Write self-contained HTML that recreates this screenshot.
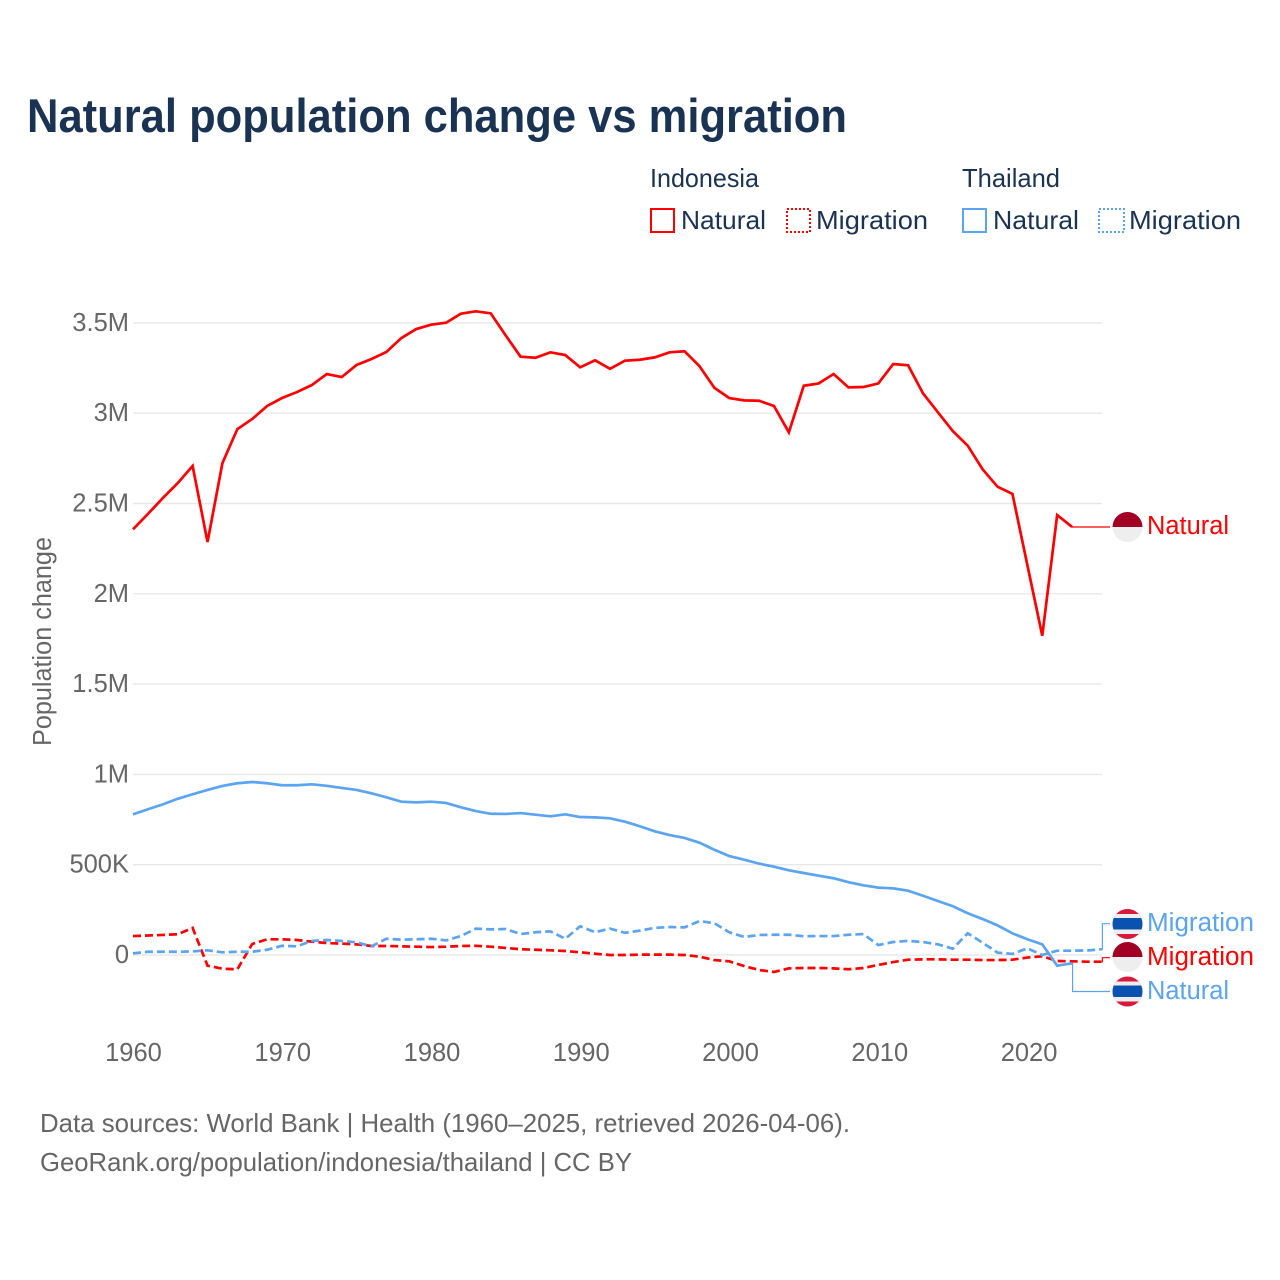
<!DOCTYPE html>
<html lang="en">
<head>
<meta charset="utf-8">
<title>Natural population change vs migration</title>
<style>
html,body{margin:0;padding:0;background:#fff;width:1280px;height:1280px;overflow:hidden}
svg{display:block}
text{font-family:"Liberation Sans",sans-serif}
.tick{font-size:25.5px;fill:#666}
.legend{font-size:26px;fill:#1a3352}
.lab{font-size:25.5px}
.foot{font-size:26px;fill:#666}
</style>
</head>
<body>
<svg id="chart" width="1280" height="1280" viewBox="0 0 1280 1280" xmlns="http://www.w3.org/2000/svg">
  <defs>
    <clipPath id="clip-a"><circle cx="1127.5" cy="527" r="15"/></clipPath>
    <clipPath id="clip-b"><circle cx="1127.5" cy="957" r="15"/></clipPath>
    <clipPath id="clip-c"><circle cx="1127.5" cy="924" r="15"/></clipPath>
    <clipPath id="clip-d"><circle cx="1127.5" cy="991.5" r="15"/></clipPath>
  </defs>
  <rect width="1280" height="1280" fill="#fff"/>
  <text x="27" y="132" font-size="47" font-weight="700" fill="#1a3352" textLength="820" lengthAdjust="spacingAndGlyphs">Natural population change vs migration</text>

  <g>
    <text class="legend" x="650" y="187" textLength="109" lengthAdjust="spacingAndGlyphs">Indonesia</text>
    <text class="legend" x="962" y="187" textLength="98" lengthAdjust="spacingAndGlyphs">Thailand</text>
    <g>
      <rect x="651" y="209" width="23" height="23" fill="none" stroke="#ff0000" stroke-width="2"/>
      <text class="legend" x="681" y="229" textLength="85" lengthAdjust="spacingAndGlyphs">Natural</text>
    </g>
    <g>
      <rect x="787" y="209" width="23" height="23" fill="none" stroke="#ff0000" stroke-width="2" stroke-dasharray="2 2"/>
      <text class="legend" x="816" y="229" textLength="112" lengthAdjust="spacingAndGlyphs">Migration</text>
    </g>
    <g>
      <rect x="963" y="209" width="23" height="23" fill="none" stroke="#5ba4f0" stroke-width="2"/>
      <text class="legend" x="993" y="229" textLength="86" lengthAdjust="spacingAndGlyphs">Natural</text>
    </g>
    <g>
      <rect x="1099" y="209" width="25" height="23" fill="none" stroke="#5ba4f0" stroke-width="2" stroke-dasharray="2 2"/>
      <text class="legend" x="1129" y="229" textLength="112" lengthAdjust="spacingAndGlyphs">Migration</text>
    </g>
  </g>

  <g id="grid"></g>
  <g id="yticks"></g>
  <g id="xticks"></g>
  <text transform="translate(51,746) rotate(-90)" font-size="25.5" fill="#666" textLength="209" lengthAdjust="spacingAndGlyphs">Population change</text>
  <g id="connectors"></g>
  <g id="series"></g>

  <g clip-path="url(#clip-a)">
    <rect x="1112" y="512" width="31" height="15" fill="#a10024"/>
    <rect x="1112" y="527" width="31" height="15" fill="#eeeeee"/>
  </g>
  <g clip-path="url(#clip-b)">
    <rect x="1112" y="942" width="31" height="15" fill="#a10024"/>
    <rect x="1112" y="957" width="31" height="15" fill="#eeeeee"/>
  </g>
  <g clip-path="url(#clip-c)">
    <rect x="1112" y="909" width="31" height="30" fill="#d8193c"/>
    <rect x="1112" y="914" width="31" height="20" fill="#eeeeee"/>
    <rect x="1112" y="918" width="31" height="11.5" fill="#0a52b0"/>
  </g>
  <g clip-path="url(#clip-d)">
    <rect x="1112" y="976" width="31" height="31" fill="#d8193c"/>
    <rect x="1112" y="981.5" width="31" height="20" fill="#eeeeee"/>
    <rect x="1112" y="985.5" width="31" height="11.5" fill="#0a52b0"/>
  </g>

  <text class="lab" x="1147" y="534" fill="#ff0000" textLength="82" lengthAdjust="spacingAndGlyphs">Natural</text>
  <text class="lab" x="1147" y="931" fill="#5ba4f0" textLength="107" lengthAdjust="spacingAndGlyphs">Migration</text>
  <text class="lab" x="1147" y="965" fill="#ff0000" textLength="107" lengthAdjust="spacingAndGlyphs">Migration</text>
  <text class="lab" x="1147" y="999" fill="#5ba4f0" textLength="82" lengthAdjust="spacingAndGlyphs">Natural</text>

  <text class="foot" x="40" y="1132" textLength="810" lengthAdjust="spacingAndGlyphs">Data sources: World Bank | Health (1960–2025, retrieved 2026-04-06).</text>
  <text class="foot" x="40" y="1171" textLength="592" lengthAdjust="spacingAndGlyphs">GeoRank.org/population/indonesia/thailand | CC BY</text>
</svg>
<script>
var startYear = 1960;
var yTickValues = [0, 500, 1000, 1500, 2000, 2500, 3000, 3500];
var yTickLabels = ["0", "500K", "1M", "1.5M", "2M", "2.5M", "3M", "3.5M"];
var xTickYears = [1960, 1970, 1980, 1990, 2000, 2010, 2020];
var xTickLabels = ["1960", "1970", "1980", "1990", "2000", "2010", "2020"];

// values in thousands of people, first value = 1960
var indonesiaNatural = [2357,2442,2530,2613,2708,2287,2724,2912,2968,3040,3084,3117,3156,3217,3200,3267,3300,3339,3416,3466,3490,3501,3551,3564,3553,3431,3313,3307,3337,3322,3254,3293,3246,3291,3296,3309,3337,3343,3261,3141,3084,3071,3069,3040,2894,3152,3165,3217,3143,3145,3165,3272,3265,3110,3005,2901,2820,2689,2593,2553,2159,1768,2436,2370];
var thailandNatural = [779,807,834,865,890,914,936,951,958,951,940,940,945,937,925,914,895,873,849,845,849,842,818,797,782,781,786,777,768,779,764,762,757,738,713,685,664,648,622,583,548,528,506,489,469,454,439,425,403,386,373,369,356,328,299,270,231,199,164,120,87,59,-59,-46];
var indonesiaMigration = [105,108,111,115,150,-59,-76,-79,61,87,87,83,74,66,63,59,50,50,48,46,44,46,50,51,46,39,32,29,26,22,15,7,0,0,2,2,2,0,-9,-28,-35,-61,-83,-94,-74,-72,-72,-74,-79,-72,-55,-39,-26,-24,-24,-26,-26,-28,-28,-26,-14,-7,-33,-35,-37,-37];
var thailandMigration = [9,18,18,18,20,26,15,18,18,29,51,48,78,83,78,70,48,90,85,87,90,81,105,146,142,144,116,126,131,90,159,126,146,123,135,150,155,153,188,176,126,100,111,112,112,104,105,105,112,116,55,72,78,72,59,35,120,68,13,6,37,0,24,24,25,32];

var NS = "http://www.w3.org/2000/svg";
var RED = "#ff0000";
var BLUE = "#5ba4f0";
function xScale(year) { return 133 + (year - 1960) * 14.906; }
function yScale(k) { return 955 - k * 0.1806; }
function make(tag, attrs, parent) {
  var el = document.createElementNS(NS, tag);
  for (var k in attrs) el.setAttribute(k, attrs[k]);
  parent.appendChild(el);
  return el;
}
var gridG = document.getElementById("grid");
var yG = document.getElementById("yticks");
var xG = document.getElementById("xticks");
var seriesG = document.getElementById("series");
var connG = document.getElementById("connectors");

yTickValues.forEach(function (v, i) {
  var line = make("line", {x1: 133, x2: 1102, y1: yScale(v), y2: yScale(v), stroke: "#e8e8e8", "stroke-width": 1.4}, gridG);
  
  
  var t = make("text", {x: 129, y: yScale(v) + 8, "text-anchor": "end", "class": "tick"}, yG);
  t.textContent = yTickLabels[i];
  
  
});
xTickYears.forEach(function (yr, i) {
  var t = make("text", {x: xScale(yr) + 0.5 + i * 0.2, y: 1061, "text-anchor": "middle", "class": "tick"}, xG);
  t.textContent = xTickLabels[i];
  
  
});
function pathFor(values) {
  return values.map(function (v, i) {
    return (i ? "L" : "M") + xScale(startYear + i).toFixed(2) + " " + yScale(v).toFixed(2);
  }).join("");
}
function drawSeries(values, color, dash, name) {
  var attrs = {d: pathFor(values), fill: "none", stroke: color, "stroke-width": 2.7, "stroke-linejoin": "miter"};
  if (dash) attrs["stroke-dasharray"] = dash;
  var p = make("path", attrs, seriesG);
  
  
}
function lastPoint(values) {
  var i = values.length - 1;
  return [xScale(startYear + i), yScale(values[i])];
}
function drawConnector(values, labelY, color, name) {
  var e = lastPoint(values);
  var x = e[0] + 0.5;
  var d = "M" + e[0].toFixed(2) + " " + e[1].toFixed(2) + "L" + x.toFixed(2) + " " + e[1].toFixed(2) + "L" + x.toFixed(2) + " " + labelY + "L1110 " + labelY;
  var c = make("path", {d: d, fill: "none", stroke: color, "stroke-width": 1.2}, connG);
  
  
}
drawConnector(indonesiaNatural, 527, RED, "connector-indonesia-natural");
drawConnector(thailandMigration, 923.7, BLUE, "connector-thailand-migration");
drawConnector(indonesiaMigration, 957.7, RED, "connector-indonesia-migration");
drawConnector(thailandNatural, 991.5, BLUE, "connector-thailand-natural");
drawSeries(indonesiaNatural, RED, null, "line-indonesia-natural");
drawSeries(indonesiaMigration, RED, "8 4", "line-indonesia-migration");
drawSeries(thailandNatural, BLUE, null, "line-thailand-natural");
drawSeries(thailandMigration, BLUE, "8 4", "line-thailand-migration");
</script>
</body>
</html>
